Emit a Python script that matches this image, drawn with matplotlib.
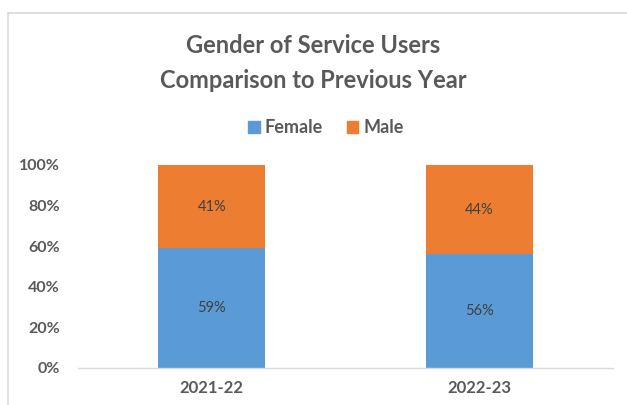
import matplotlib
matplotlib.use("Agg")
import matplotlib.pyplot as plt
from matplotlib.lines import Line2D
from matplotlib.patches import Patch
from matplotlib.ticker import PercentFormatter

# Data
years = ["2021-22", "2022-23"]
female = [59, 56]
male = [41, 44]
series_names = ["Female", "Male"]

BLUE = "#5B9BD5"
ORANGE = "#ED7D31"
TEXT = "#595959"
LABEL = "#404040"

plt.rcParams["font.family"] = ["Lato", "DejaVu Sans"]

fig = plt.figure(figsize=(6.27, 4.05), dpi=100)
ax = fig.add_axes([0.1244, 0.0914, 0.8533, 0.5012])

x = range(len(years))
b1 = ax.bar(x, [v / 100 for v in female], width=0.4, color=BLUE)
b2 = ax.bar(x, [v / 100 for v in male], width=0.4, bottom=[v / 100 for v in female], color=ORANGE)

for rects, vals in ((b1, female), (b2, male)):
    for r, v in zip(rects, vals):
        ax.text(r.get_x() + r.get_width() / 2, r.get_y() + r.get_height() / 2,
                f"{v}%", ha="center", va="center", fontsize=10.5, color=LABEL)

ax.set_xlim(-0.5, 1.5)
ax.set_ylim(0, 1)
ax.set_yticks([0, 0.2, 0.4, 0.6, 0.8, 1.0])
ax.yaxis.set_major_formatter(PercentFormatter(1.0, decimals=0))
ax.set_xticks(list(x))
ax.set_xticklabels(years)

for s in ("top", "right", "left"):
    ax.spines[s].set_visible(False)
ax.spines["bottom"].set_color("#D9D9D9")
ax.spines["bottom"].set_linewidth(1.0)
ax.tick_params(axis="both", length=0, colors=TEXT)
ax.tick_params(axis="y", pad=13, labelsize=11.5)
ax.tick_params(axis="x", pad=9, labelsize=12)
for lbl in ax.get_yticklabels() + ax.get_xticklabels():
    lbl.set_fontweight("bold")

# Title
fig.text(0.5, 0.888, "Gender of Service Users", ha="center", va="center",
         fontsize=17, fontweight="bold", color=TEXT)
fig.text(0.5, 0.802, "Comparison to Previous Year", ha="center", va="center",
         fontsize=17, fontweight="bold", color=TEXT)

# Legend
handles = [Patch(color=BLUE), Patch(color=ORANGE)]
fig.legend(handles, series_names, loc="center", bbox_to_anchor=(0.52, 0.685),
           ncol=2, frameon=False, prop={"weight": "bold", "size": 13},
           handlelength=0.65, handleheight=0.65, handletextpad=0.3, columnspacing=1.3,
           labelcolor=TEXT)

# Chart frame
fig.add_artist(Line2D([0.0128, 1.0], [0.968, 0.968], transform=fig.transFigure,
                      color="#D9D9D9", lw=1.2))
fig.add_artist(Line2D([0.0128, 0.0128], [0.0, 0.968], transform=fig.transFigure,
                      color="#D9D9D9", lw=1.2))

fig.savefig("out.png", dpi=100)
